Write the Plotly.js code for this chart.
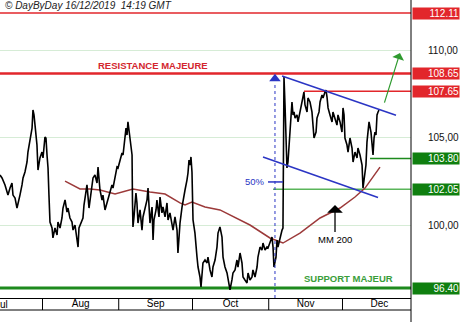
<!DOCTYPE html>
<html><head><meta charset="utf-8">
<script src="https://cdn.plot.ly/plotly-3.0.1.min.js"></script>
<style>html,body{margin:0;padding:0;background:#fff}#chart{width:460px;height:322px}</style>
</head><body><div id="chart"></div>
<script>
const dates = [
'2019-07-14 17:00','2019-07-15 13:00','2019-07-16 18:00','2019-07-17 23:00','2019-07-18 19:00','2019-07-19 14:00','2019-07-20 00:00','2019-07-20 20:00','2019-07-21 15:00','2019-07-22 01:00',
'2019-07-22 20:00','2019-07-23 16:00','2019-07-24 02:00','2019-07-24 21:00','2019-07-25 17:00','2019-07-26 02:00','2019-07-26 22:00','2019-07-27 18:00','2019-07-28 03:00','2019-07-28 13:00',
'2019-07-28 23:00','2019-07-29 18:00','2019-07-30 04:00','2019-07-30 23:00','2019-07-31 19:00','2019-08-01 05:00','2019-08-02 00:00','2019-08-02 10:00','2019-08-02 20:00','2019-08-03 06:00',
'2019-08-03 15:00','2019-08-04 01:00','2019-08-04 21:00','2019-08-05 06:00','2019-08-06 02:00','2019-08-06 22:00','2019-08-07 07:00','2019-08-08 03:00','2019-08-08 22:00','2019-08-09 08:00',
'2019-08-10 04:00','2019-08-10 23:00','2019-08-11 09:00','2019-08-12 04:00','2019-08-13 00:00','2019-08-13 10:00','2019-08-14 05:00','2019-08-15 01:00','2019-08-15 11:00','2019-08-15 20:00',
'2019-08-16 16:00','2019-08-17 11:00','2019-08-17 21:00','2019-08-18 17:00','2019-08-19 02:00','2019-08-19 22:00','2019-08-20 17:00','2019-08-21 13:00','2019-08-22 08:00','2019-08-23 04:00',
'2019-08-23 14:00','2019-08-23 23:00','2019-08-24 09:00','2019-08-25 05:00','2019-08-25 14:00','2019-08-26 10:00','2019-08-27 06:00','2019-08-27 15:00','2019-08-28 11:00','2019-08-29 06:00',
'2019-08-29 16:00','2019-08-30 12:00','2019-08-31 07:00','2019-08-31 17:00','2019-09-01 12:00','2019-09-02 08:00','2019-09-02 18:00','2019-09-03 13:00','2019-09-03 23:00','2019-09-04 09:00',
'2019-09-04 18:00','2019-09-05 04:00','2019-09-05 14:00','2019-09-05 23:00','2019-09-06 10:00','2019-09-06 14:00','2019-09-06 19:00','2019-09-07 05:00','2019-09-08 00:00','2019-09-08 10:00',
'2019-09-08 20:00','2019-09-09 16:00','2019-09-10 11:00','2019-09-10 21:00','2019-09-11 16:00','2019-09-12 12:00','2019-09-12 22:00','2019-09-13 07:00','2019-09-13 17:00','2019-09-14 13:00',
'2019-09-14 23:00','2019-09-15 08:00','2019-09-16 04:00','2019-09-16 13:00','2019-09-17 09:00','2019-09-17 19:00','2019-09-18 14:00','2019-09-19 00:00','2019-09-19 20:00','2019-09-20 15:00',
'2019-09-21 01:00','2019-09-21 20:00','2019-09-22 16:00','2019-09-23 02:00','2019-09-23 21:00','2019-09-24 17:00','2019-09-25 02:00','2019-09-25 12:00','2019-09-25 22:00','2019-09-26 18:00',
'2019-09-27 03:00','2019-09-27 23:00','2019-09-28 18:00','2019-09-29 04:00','2019-09-29 14:00','2019-09-30 00:00','2019-09-30 09:00','2019-09-30 19:00','2019-10-01 05:00','2019-10-02 00:00',
'2019-10-02 20:00','2019-10-03 06:00','2019-10-04 01:00','2019-10-04 11:00','2019-10-05 06:00','2019-10-06 02:00','2019-10-06 22:00','2019-10-07 07:00','2019-10-08 03:00','2019-10-08 22:00',
'2019-10-09 08:00','2019-10-10 04:00','2019-10-10 23:00','2019-10-11 09:00','2019-10-12 04:00','2019-10-13 00:00','2019-10-13 10:00','2019-10-14 05:00','2019-10-15 01:00','2019-10-15 11:00',
'2019-10-16 06:00','2019-10-17 01:00','2019-10-17 11:00','2019-10-18 07:00','2019-10-19 02:00','2019-10-19 12:00','2019-10-20 08:00','2019-10-21 03:00','2019-10-21 13:00','2019-10-22 08:00',
'2019-10-23 04:00','2019-10-23 14:00','2019-10-24 09:00','2019-10-25 05:00','2019-10-25 14:00','2019-10-26 10:00','2019-10-27 06:00','2019-10-27 15:00','2019-10-28 11:00','2019-10-29 06:00',
'2019-10-29 16:00','2019-10-30 12:00','2019-10-31 07:00','2019-10-31 17:00','2019-11-01 12:00','2019-11-02 08:00','2019-11-02 18:00','2019-11-03 03:00','2019-11-03 23:00','2019-11-04 09:00',
'2019-11-04 18:00','2019-11-05 14:00','2019-11-06 10:00','2019-11-06 19:00','2019-11-07 00:00','2019-11-07 05:00','2019-11-07 15:00','2019-11-08 01:00','2019-11-08 10:00','2019-11-08 20:00',
'2019-11-09 06:00','2019-11-10 01:00','2019-11-10 11:00','2019-11-10 21:00','2019-11-11 07:00','2019-11-11 17:00','2019-11-12 12:00','2019-11-12 22:00','2019-11-13 17:00','2019-11-14 13:00',
'2019-11-14 23:00','2019-11-15 08:00','2019-11-15 18:00','2019-11-16 14:00','2019-11-16 23:00','2019-11-17 19:00','2019-11-18 14:00','2019-11-19 00:00','2019-11-19 10:00','2019-11-20 06:00',
'2019-11-20 15:00','2019-11-21 11:00','2019-11-21 21:00','2019-11-22 16:00','2019-11-23 02:00','2019-11-23 21:00','2019-11-24 07:00','2019-11-24 17:00','2019-11-25 03:00','2019-11-25 22:00',
'2019-11-26 18:00','2019-11-27 03:00','2019-11-27 23:00','2019-11-28 18:00','2019-11-29 04:00','2019-11-30 00:00','2019-11-30 19:00','2019-12-01 05:00','2019-12-01 15:00','2019-12-02 00:00',
'2019-12-02 20:00','2019-12-03 06:00','2019-12-04 01:00','2019-12-04 21:00','2019-12-05 07:00','2019-12-06 02:00','2019-12-06 22:00','2019-12-07 07:00','2019-12-08 03:00','2019-12-08 23:00',
'2019-12-09 08:00','2019-12-09 18:00','2019-12-10 13:00','2019-12-10 23:00','2019-12-11 09:00','2019-12-11 19:00','2019-12-12 14:00','2019-12-13 00:00','2019-12-13 10:00','2019-12-13 20:00',
'2019-12-14 05:00','2019-12-14 15:00','2019-12-15 01:00','2019-12-15 11:00','2019-12-15 20:00'
];
const prices = [
102.86,102.69,102.29,101.71,102.11,102.40,101.71,101.54,100.97,101.31,
101.71,102.29,102.69,103.03,103.60,104.17,104.97,105.54,106.57,106.29,
105.71,104.57,103.14,103.83,104.17,103.83,105.03,104.97,104.00,103.26,
101.71,100.17,99.83,99.26,99.83,99.43,100.17,99.83,100.40,100.97,
101.43,100.74,100.97,100.40,100.17,99.71,100.00,99.26,98.74,99.83,
100.17,100.40,101.14,101.89,102.29,100.97,101.89,102.69,102.86,102.40,
103.31,102.46,102.00,101.43,101.71,100.86,101.26,101.43,101.89,102.29,
102.11,102.86,103.31,103.26,103.71,104.11,104.00,104.86,105.54,105.14,
105.89,105.43,104.86,104.29,104.00,101.43,99.89,100.46,101.83,101.26,
100.11,100.86,99.71,100.46,101.03,101.43,102.11,100.86,100.11,101.03,
99.14,100.29,100.86,101.43,100.46,101.60,100.69,101.03,100.46,101.26,
100.29,100.69,100.11,99.71,100.46,99.71,98.40,99.14,100.11,101.03,
101.43,102.00,102.57,102.97,103.71,103.43,103.89,103.03,100.29,99.54,
98.17,97.60,97.03,96.46,97.83,98.00,97.83,98.17,97.43,97.03,
97.60,98.00,98.74,99.54,99.89,99.31,98.17,97.60,97.26,96.86,
96.29,96.86,97.26,97.43,98.00,97.60,98.40,97.83,97.03,96.86,
96.69,97.26,96.86,97.03,97.43,97.03,97.60,98.17,98.74,98.57,
98.97,98.57,98.74,98.69,98.97,99.31,98.74,97.60,98.17,99.14,
98.74,99.31,99.71,99.83,102.69,108.46,106.86,104.17,103.26,103.60,
104.40,106.11,107.03,106.29,106.46,106.11,106.29,105.89,106.46,107.03,
107.43,107.60,106.86,106.46,107.26,107.03,106.46,105.54,104.97,105.31,
106.11,106.46,107.03,107.43,107.26,107.60,107.71,107.31,106.69,106.29,
105.89,106.46,106.11,105.71,106.29,105.89,105.31,106.69,106.29,104.97,
104.57,104.17,104.97,104.40,103.60,104.17,103.83,104.40,104.00,103.43,
102.11,102.69,103.43,104.74,105.54,105.89,105.31,104.29,104.00,104.97,
105.31,105.14,106.29,106.46,106.57
];
const maDates = ['2019-08-10 04:00','2019-08-16 06:00','2019-08-20 08:00','2019-08-24 09:00','2019-08-30 12:00','2019-09-03 13:00','2019-09-06 19:00','2019-09-13 17:00','2019-09-19 20:00','2019-09-25 22:00','2019-09-27 23:00','2019-09-30 19:00','2019-10-06 02:00','2019-10-12 04:00','2019-10-16 06:00','2019-10-24 09:00','2019-11-01 12:00','2019-11-06 19:00','2019-11-13 17:00','2019-11-21 21:00','2019-11-30 00:00','2019-12-06 02:00','2019-12-10 04:00','2019-12-16 06:00'];
const maValues = [102.51,102.06,102.06,102.00,101.77,101.94,102.06,101.89,101.77,101.26,101.14,101.31,101.03,100.86,100.57,100.00,99.26,98.97,99.54,100.40,100.97,101.60,102.11,103.31];

const levelValues = [112.11, 108.65, 107.65, 103.80, 102.05, 96.40];
const levelLabels = ['112.11', '108.65', '107.65', '103.80', '102.05', '96.40'];
const levelStarts = [null, null, '2019-11-15 08:00', '2019-12-12 05:00', '2019-11-02 18:00', null];

const yTickVals = [100, 105, 110];
const yTickText = ['100,00', '105,00', '110,00'];
const monthStarts = ['2019-08-01', '2019-09-01', '2019-10-01', '2019-11-01', '2019-12-01'];
const firstMonthLabel = 'Jul';
const firstMonthCenter = '2019-07-15 12:00';
const xRange = ['2019-07-14 17:12', '2019-12-28 20:38'];
const yRange = [95.829, 112.857];

const upperX = ['2019-11-06 10:00', '2019-12-22 18:00'];
const upperY = [108.51, 106.27];
const lowerX = ['2019-10-29 16:00', '2019-12-15 11:00'];
const lowerY = [103.89, 101.57];
const midLevel = 102.46;
const midX = ['2019-10-31 17:00', '2019-11-06 19:00'];
const markDate = '2019-11-03 13:00';
const markTop = 108.36;
const targetFrom = ['2019-12-17 21:00', 106.91];
const targetTo = ['2019-12-24 09:00', 109.83];
const mmPoint = ['2019-11-27 23:00', 101.14];

const RED = '#e2262b', GREEN = '#1d8a1d', LGREEN = '#5ab55a', BLUE = '#2b35c4';
const levelColors = [RED, RED, RED, GREEN, LGREEN, GREEN];
const levelWidths = [1.5, 2.5, 1.5, 1.5, 1.5, 3];
const boxColors = [RED, RED, RED, '#0f7f0f', '#0f7f0f', '#0f7f0f'];
const FONT = 'Arial, "Liberation Sans", sans-serif';

const shapes = [];
levelValues.forEach((v, i) => {
  shapes.push({type: 'line', xref: 'x', yref: 'y', x0: levelStarts[i] || xRange[0], x1: xRange[1], y0: v, y1: v,
    line: {color: levelColors[i], width: levelWidths[i]}, layer: 'below'});
});
shapes.push({type: 'line', xref: 'x', yref: 'y', x0: upperX[0], x1: upperX[1], y0: upperY[0], y1: upperY[1], line: {color: BLUE, width: 1.5}});
shapes.push({type: 'line', xref: 'x', yref: 'y', x0: lowerX[0], x1: lowerX[1], y0: lowerY[0], y1: lowerY[1], line: {color: BLUE, width: 1.5}});
shapes.push({type: 'line', xref: 'x', yref: 'y', x0: midX[0], x1: midX[1], y0: midLevel, y1: midLevel, line: {color: BLUE, width: 1.5}});
shapes.push({type: 'line', xref: 'x', yref: 'y', x0: markDate, x1: markDate, y0: yRange[0], y1: markTop - 0.2, line: {color: BLUE, width: 1, dash: 'dot'}});
// axis band
const bandBottom = -12 / 298;
monthStarts.forEach(m => shapes.push({type: 'line', xref: 'x', yref: 'paper', x0: m, x1: m, y0: bandBottom, y1: 0, line: {color: '#000', width: 1}}));
shapes.push({type: 'line', xref: 'paper', yref: 'paper', x0: 0, x1: 1, y0: bandBottom, y1: bandBottom, line: {color: '#000', width: 1}});
shapes.push({type: 'line', xref: 'paper', yref: 'paper', x0: 1, x1: 1, y0: -24 / 298, y1: 1, line: {color: '#000', width: 1}});

const annotations = [];
levelValues.forEach((v, i) => {
  annotations.push({xref: 'paper', yref: 'y', x: 1, y: v, xanchor: 'left', yanchor: 'middle', xshift: 1,
    text: levelLabels[i], showarrow: false, bgcolor: boxColors[i], width: 46, height: 11, borderpad: 0, align: 'right',
    font: {family: FONT, size: 10, color: '#fff'}});
});
annotations.push({xref: 'x', yref: 'paper', x: firstMonthCenter, y: -6 / 298, xanchor: 'center', yanchor: 'middle',
  text: firstMonthLabel, showarrow: false, font: {family: FONT, size: 10, color: '#000'}});
annotations.push({xref: 'paper', yref: 'paper', x: 3 / 411, y: 1 - 6 / 298, xanchor: 'left', yanchor: 'middle',
  text: '© DayByDay 16/12/2019  14:19 GMT', showarrow: false, font: {family: FONT, size: 10, color: '#222', style: 'italic'}});
annotations.push({xref: 'paper', yref: 'y', x: 153 / 411, y: 109.11, xanchor: 'center', yanchor: 'middle',
  text: 'RESISTANCE MAJEURE', showarrow: false, font: {family: FONT, size: 9.5, color: '#d3262e', weight: 600}});
annotations.push({xref: 'paper', yref: 'y', x: 348 / 411, y: 96.97, xanchor: 'center', yanchor: 'middle',
  text: 'SUPPORT MAJEUR', showarrow: false, font: {family: FONT, size: 9.5, color: '#3a9e3a', weight: 600}});
annotations.push({xref: 'x', yref: 'y', x: midX[0], y: midLevel, xanchor: 'right', yanchor: 'middle', xshift: -1,
  text: '50%', showarrow: false, font: {family: FONT, size: 9.5, color: BLUE}});
annotations.push({xref: 'x', yref: 'y', x: mmPoint[0], y: mmPoint[1], text: 'MM 200', showarrow: true,
  ax: 0, ay: 34, arrowhead: 1, arrowsize: 2, arrowwidth: 1.3, arrowcolor: '#000', standoff: 0,
  font: {family: FONT, size: 9.5, color: '#000'}});
annotations.push({xref: 'x', yref: 'y', axref: 'x', ayref: 'y', x: targetTo[0], y: targetTo[1], ax: targetFrom[0], ay: targetFrom[1],
  text: '', showarrow: true, arrowhead: 1, arrowsize: 1.7, arrowwidth: 1.2, arrowcolor: '#2e9a2e'});

const traces = [
  {x: maDates, y: maValues, type: 'scatter', mode: 'lines', line: {color: '#9c3a3a', width: 1.5}, hoverinfo: 'skip'},
  {x: dates, y: prices, type: 'scatter', mode: 'lines', line: {color: '#000', width: 1.6}, hoverinfo: 'skip'},
  {x: [markDate], y: [markTop], type: 'scatter', mode: 'markers', marker: {symbol: 'triangle-up', size: 10, color: BLUE}, hoverinfo: 'skip'}
];

const layout = {
  width: 460, height: 322,
  margin: {l: 0, r: 49, t: 0, b: 24, pad: 0},
  paper_bgcolor: '#fff', plot_bgcolor: '#fff',
  showlegend: false,
  font: {family: FONT, size: 10, color: '#000'},
  xaxis: {type: 'date', range: xRange, showgrid: false, zeroline: false, showline: true, linecolor: '#000', linewidth: 1,
    ticks: '', dtick: 'M1', tick0: '2019-07-01', ticklabelmode: 'period', tickformat: '%b', ticklabelstandoff: -4,
    tickfont: {family: FONT, size: 10, color: '#000'}, fixedrange: true, automargin: false},
  yaxis: {range: yRange, side: 'right', tickvals: yTickVals, ticktext: yTickText, showgrid: true, gridcolor: '#d6ecd6', gridwidth: 1,
    zeroline: false, showline: false, ticks: '', ticklabelstandoff: 16, tickfont: {family: FONT, size: 10, color: '#111'},
    fixedrange: true, automargin: false},
  shapes: shapes,
  annotations: annotations
};
Plotly.newPlot('chart', traces, layout, {staticPlot: true, displayModeBar: false});
</script>
</body></html>
